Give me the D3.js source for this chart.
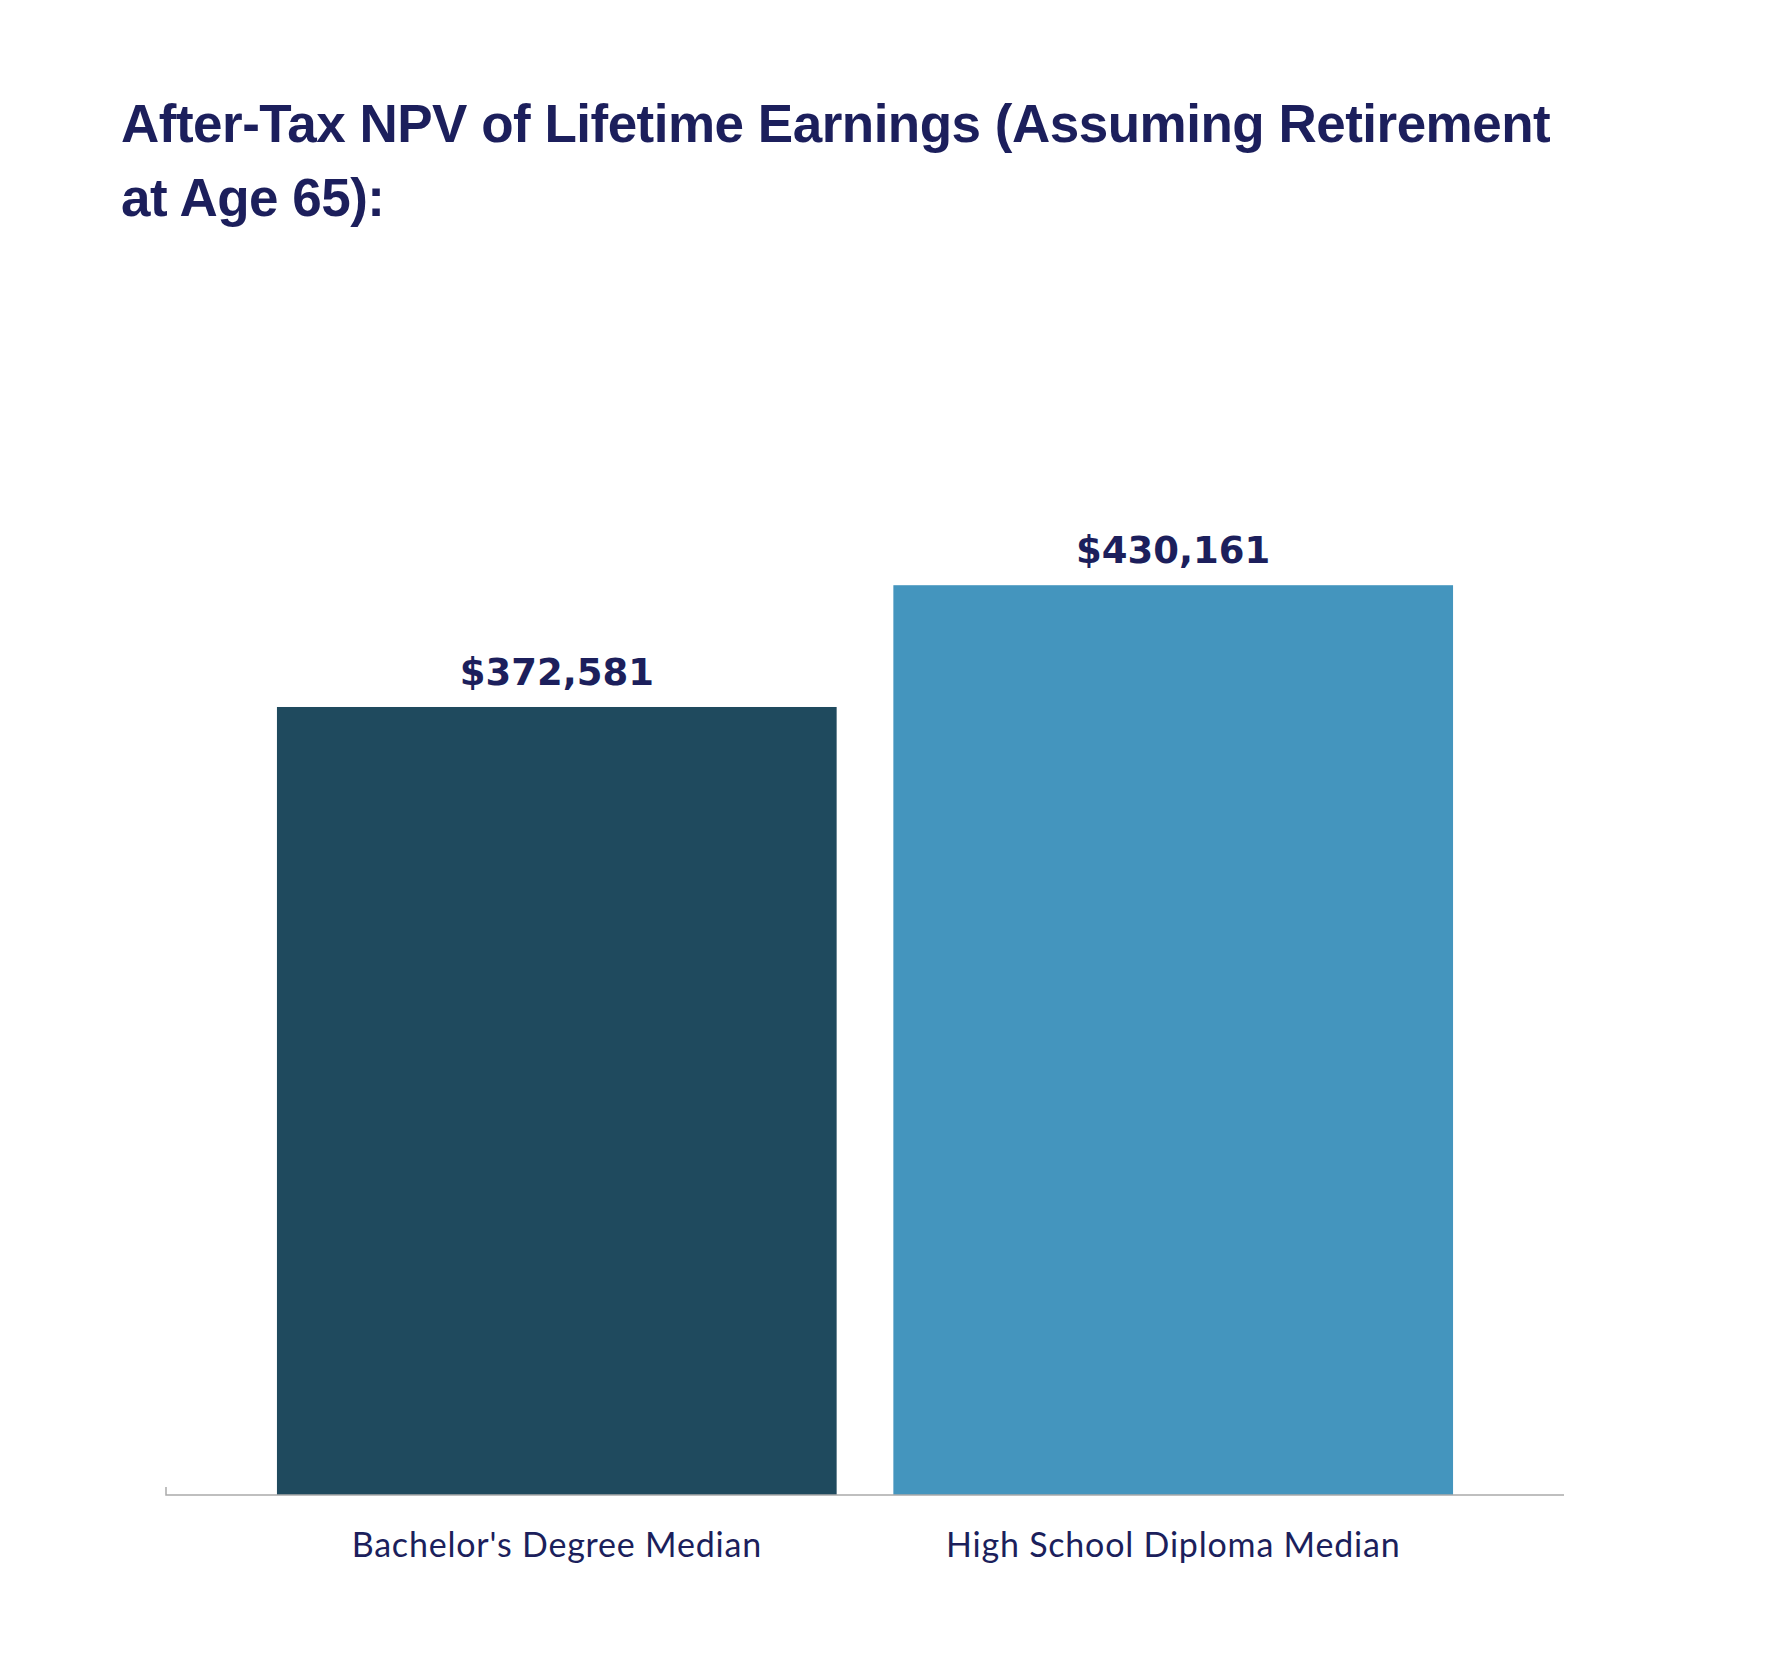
<!DOCTYPE html>
<html><head><meta charset="utf-8">
<script src="https://cdn.jsdelivr.net/npm/d3@7"></script>
<style>body{margin:0;background:#fff}</style></head>
<body><svg id="c" width="1767" height="1663"></svg>
<script>
const categories = ["Bachelor's Degree Median", "High School Diploma Median"];
const values = [372581, 430161];
const colors = ["#1f4a5e", "#4495be"];
const titleLines = ["After-Tax NPV of Lifetime Earnings (Assuming Retirement", "at Age 65):"];

const svg = d3.select("#c");
const x = d3.scaleBand().domain(categories).range([166, 1564]).paddingInner(0.092).paddingOuter(0.18);
const y = d3.scaleLinear().domain([0, 500000]).range([1495, 437.5]);

svg.selectAll("text.title").data(titleLines).join("text")
  .attr("x", 121).attr("y", (d, i) => 142 + i * 74)
  .attr("font-family", "Liberation Sans, Arial, sans-serif").attr("font-weight", "bold")
  .attr("font-size", 53).attr("letter-spacing", -0.5).attr("fill", "#1c1f5c").text(d => d);

svg.selectAll("rect").data(values).join("rect")
  .attr("x", (d, i) => x(categories[i])).attr("width", x.bandwidth())
  .attr("y", d => y(d)).attr("height", d => y(0) - y(d))
  .attr("fill", (d, i) => colors[i]);

svg.selectAll("text.val").data(values).join("text")
  .attr("x", (d, i) => x(categories[i]) + x.bandwidth() / 2).attr("y", d => y(d) - 22)
  .attr("text-anchor", "middle").attr("font-family", "DejaVu Sans, sans-serif").attr("font-weight", "bold")
  .attr("font-size", 37).attr("fill", "#1c1f5c").text(d => "$" + d3.format(",")(d));

const ax = svg.append("g").attr("transform", "translate(0,1495)")
  .call(d3.axisBottom(x).tickSize(0).tickPadding(38));
ax.select(".domain").attr("stroke", "#aaa").attr("stroke-width", 1.5).attr("d", "M166,-8V0H1564");
ax.selectAll("text").attr("font-family", "Lato, sans-serif").attr("font-size", 34)
  .attr("letter-spacing", 0.8).attr("fill", "#1c1f5c");
</script></body></html>
